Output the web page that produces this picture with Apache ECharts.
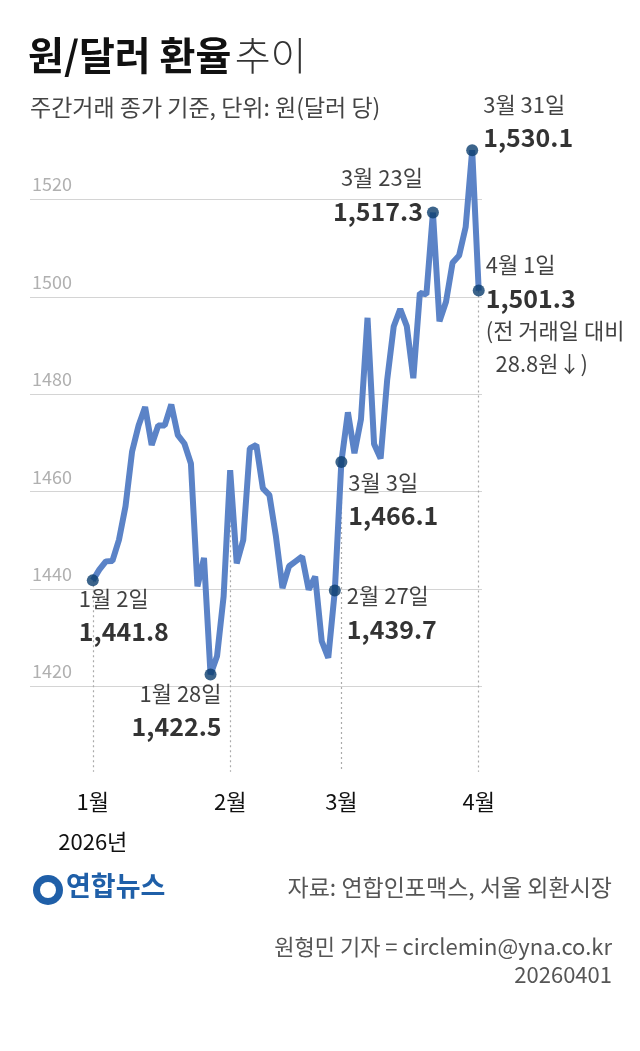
<!DOCTYPE html>
<html><head><meta charset="utf-8">
<script src="https://cdn.jsdelivr.net/npm/echarts@6/dist/echarts.min.js"></script>
<style>html,body{margin:0;padding:0;background:#fff}#c{width:640px;height:1051px}</style>
</head><body><div id="c"></div>
<script>
const dates = ['1/2','1/5','1/6','1/7','1/8','1/9','1/12','1/13','1/14','1/15','1/16','1/19','1/20','1/21','1/22','1/23','1/26','1/27','1/28','1/29','1/30',
'2/2','2/3','2/4','2/5','2/6','2/9','2/10','2/11','2/12','2/13','2/19','2/20','2/23','2/24','2/25','2/26','2/27',
'3/3','3/4','3/5','3/6','3/9','3/10','3/11','3/12','3/13','3/16','3/17','3/18','3/19','3/20','3/23','3/24','3/25','3/26','3/27','3/30','3/31','4/1'];
const rates = [1441.8,1444.0,1445.7,1445.8,1450.1,1457.0,1468.2,1473.6,1477.4,1469.6,1473.6,1473.6,1477.9,1471.6,1469.9,1465.8,1440.6,1446.4,1422.5,1426.3,1438.5,
1464.4,1445.3,1450.1,1468.9,1469.6,1460.7,1459.3,1450.8,1440.2,1444.7,1445.7,1446.7,1439.9,1442.6,1429.3,1425.9,1439.7,
1466.1,1476.3,1467.9,1474.9,1495.7,1469.8,1466.8,1482.9,1493.9,1497.5,1494.0,1483.3,1500.8,1500.5,1517.3,1495.0,1499.0,1507.0,1508.5,1514.3,1530.1,1501.3];
const yTicks = [1420,1440,1460,1480,1500,1520];
const monthTicks = [0,21,38,59];
const monthLabels = ['1월\n2026년','2월','3월','4월'];
const highlights = [
  {i:0, name:'1월 2일', val:'1,441.8', pos:[-8,8], align:'left'},
  {i:18, name:'1월 28일', val:'1,422.5', pos:[17,9], align:'right'},
  {i:37, name:'2월 27일', val:'1,439.7', pos:[18,-5], align:'left'},
  {i:38, name:'3월 3일', val:'1,466.1', pos:[13,10], align:'left'},
  {i:52, name:'3월 23일', val:'1,517.3', pos:[-4,-45], align:'right'},
  {i:58, name:'3월 31일', val:'1,530.1', pos:[17,-56], align:'left'},
  {i:59, name:'4월 1일', val:'1,501.3', pos:[13,-36], align:'left', extra:'\n(전 거래일 대비\n  28.8원↓)'}
];
const F = '"Noto Sans CJK KR","Noto Sans",sans-serif';
const chart = echarts.init(document.getElementById('c'));
const lineData = rates.map((v,i)=>[i,v]);
chart.setOption({
  animation:false,
  textStyle:{fontFamily:F},
  grid:{left:30, right:158, top:102, height:682},
  xAxis:{type:'value', min:-9.6, max:59.5,
    axisLine:{show:false}, axisTick:{show:false}, splitLine:{show:false},
    axisLabel:{customValues:monthTicks, formatter:v=>monthLabels[monthTicks.indexOf(v)]||'',
      color:'#111', fontSize:22, lineHeight:40, margin:-2, fontFamily:F}},
  yAxis:{type:'value', min:1400, max:1540, interval:20,
    axisLine:{show:false}, axisTick:{show:false},
    splitLine:{show:true, showMinLine:false, showMaxLine:false, lineStyle:{color:'#d4d4d4', width:1}},
    axisLabel:{inside:true, formatter:v=>yTicks.includes(v)?String(v):'', color:'#b0b0b0', fontSize:18,
      verticalAlign:'bottom', padding:[0,0,6,0], margin:2, fontFamily:F}},
  series:[
    {type:'line', data:lineData, symbol:'none', lineStyle:{color:'#5b83c7', width:6}, z:3,
     markLine:{silent:true, symbol:'none', label:{show:false}, z:1,
       lineStyle:{color:'#aaaaaa', type:[2,3], width:1.2},
       data: monthTicks.map(i=>[{coord:[i, rates[i]]},{coord:[i,1402.5]}])}},
    {type:'scatter', symbolSize:12, itemStyle:{color:'#0b3d6e'}, z:5,
     data: highlights.map(h=>({value:[h.i, rates[h.i]],
       label:{show:true, position:h.pos, align:h.align, verticalAlign:'top',
         formatter:'{a|'+h.name+'}\n{b|'+h.val+'}'+(h.extra?'{a|'+h.extra+'}':''),
         rich:{a:{fontSize:22, color:'#111', lineHeight:33, fontFamily:F},
               b:{fontSize:25, fontWeight:'bold', color:'#000', lineHeight:33, fontFamily:F}}}}))}
  ],
  graphic:[
    {type:'text', left:28, top:36, style:{text:'{a|원/달러 환율} {b|추이}', rich:{
      a:{fontSize:39, fontWeight:'bold', fill:'#111', fontFamily:F},
      b:{fontSize:39, fontWeight:300, fill:'#333', fontFamily:F}}}},
    {type:'text', left:30, top:96, style:{text:'주간거래 종가 기준, 단위: 원(달러 당)', fontSize:23, fill:'#444', fontFamily:F}},
    {type:'circle', shape:{cx:48, cy:890, r:15}, style:{fill:'#1f5fa8'}},
    {type:'circle', shape:{cx:48, cy:890, r:8}, style:{fill:'#fff'}},
    {type:'text', left:66, top:872, style:{text:'연합뉴스', fontSize:27, fontWeight:'bold', fill:'#1f5fa8', fontFamily:F}},
    {type:'text', right:28, top:876, style:{text:'자료: 연합인포맥스, 서울 외환시장', fontSize:23, fill:'#555', fontFamily:F}},
    {type:'text', right:28, top:936, style:{text:'원형민 기자 = circlemin@yna.co.kr', fontSize:22, fill:'#555', fontFamily:F}},
    {type:'text', right:28, top:964, style:{text:'20260401', fontSize:22, fill:'#555', fontFamily:F}}
  ]
});
</script></body></html>
